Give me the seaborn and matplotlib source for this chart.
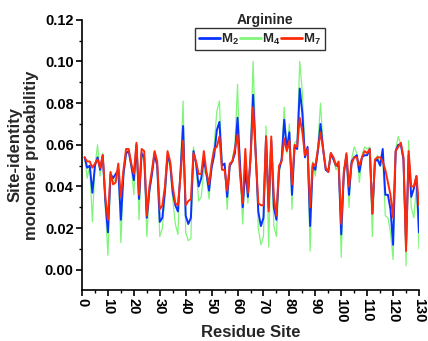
import numpy as np
import pandas as pd
import matplotlib
matplotlib.use("Agg")
import matplotlib.pyplot as plt
import seaborn as sns
from matplotlib.lines import Line2D
from matplotlib.ticker import MultipleLocator

sites = list(range(1, 131))

m7 = [0.054, 0.052, 0.052, 0.049, 0.051, 0.053, 0.049, 0.055, 0.035, 0.024,
      0.047, 0.041, 0.042, 0.051, 0.035, 0.048, 0.058, 0.058, 0.051, 0.046,
      0.061, 0.036, 0.058, 0.057, 0.026, 0.040, 0.048, 0.057, 0.052, 0.029,
      0.031, 0.040, 0.057, 0.052, 0.040, 0.032, 0.031, 0.045, 0.062, 0.031,
      0.033, 0.034, 0.056, 0.052, 0.046, 0.046, 0.057, 0.047, 0.041, 0.051,
      0.058, 0.059, 0.064, 0.048, 0.048, 0.038, 0.051, 0.052, 0.058, 0.065,
      0.045, 0.032, 0.058, 0.037, 0.053, 0.078, 0.055, 0.032, 0.031, 0.031,
      0.064, 0.028, 0.064, 0.035, 0.026, 0.050, 0.052, 0.063, 0.057, 0.062,
      0.041, 0.060, 0.059, 0.073, 0.066, 0.055, 0.058, 0.030, 0.051, 0.050,
      0.058, 0.066, 0.058, 0.049, 0.047, 0.056, 0.054, 0.050, 0.052, 0.022,
      0.047, 0.056, 0.040, 0.051, 0.054, 0.054, 0.050, 0.054, 0.057, 0.056,
      0.058, 0.027, 0.053, 0.054, 0.054, 0.052, 0.048, 0.042, 0.036, 0.025,
      0.057, 0.059, 0.061, 0.054, 0.009, 0.057, 0.040, 0.040, 0.045, 0.031]

m2 = [0.054, 0.049, 0.050, 0.037, 0.050, 0.054, 0.048, 0.055, 0.033, 0.018,
      0.046, 0.044, 0.046, 0.048, 0.024, 0.046, 0.056, 0.057, 0.050, 0.043,
      0.060, 0.034, 0.056, 0.054, 0.025, 0.038, 0.046, 0.056, 0.050, 0.023,
      0.025, 0.038, 0.055, 0.051, 0.037, 0.031, 0.028, 0.047, 0.069, 0.026,
      0.022, 0.025, 0.057, 0.051, 0.040, 0.044, 0.053, 0.046, 0.038, 0.049,
      0.055, 0.067, 0.071, 0.050, 0.051, 0.035, 0.050, 0.052, 0.056, 0.073,
      0.050, 0.030, 0.048, 0.035, 0.054, 0.084, 0.056, 0.028, 0.021, 0.025,
      0.064, 0.030, 0.062, 0.030, 0.024, 0.048, 0.053, 0.072, 0.058, 0.066,
      0.036, 0.059, 0.058, 0.087, 0.075, 0.054, 0.059, 0.021, 0.050, 0.048,
      0.057, 0.070, 0.058, 0.048, 0.047, 0.056, 0.053, 0.050, 0.050, 0.017,
      0.046, 0.055, 0.036, 0.052, 0.054, 0.055, 0.047, 0.054, 0.055, 0.055,
      0.058, 0.027, 0.052, 0.053, 0.050, 0.058, 0.036, 0.036, 0.029, 0.012,
      0.057, 0.060, 0.060, 0.053, 0.012, 0.055, 0.035, 0.039, 0.045, 0.018]

m4 = [0.054, 0.044, 0.050, 0.023, 0.050, 0.060, 0.045, 0.056, 0.030, 0.007,
      0.044, 0.042, 0.044, 0.050, 0.013, 0.044, 0.055, 0.057, 0.050, 0.036,
      0.060, 0.024, 0.055, 0.052, 0.016, 0.037, 0.046, 0.057, 0.048, 0.016,
      0.020, 0.035, 0.052, 0.050, 0.034, 0.022, 0.017, 0.050, 0.081, 0.018,
      0.014, 0.015, 0.059, 0.050, 0.033, 0.035, 0.048, 0.045, 0.034, 0.051,
      0.060, 0.076, 0.081, 0.051, 0.050, 0.029, 0.049, 0.053, 0.060, 0.089,
      0.046, 0.022, 0.050, 0.032, 0.056, 0.100, 0.062, 0.020, 0.012, 0.016,
      0.069, 0.011, 0.060, 0.021, 0.016, 0.045, 0.054, 0.078, 0.056, 0.070,
      0.029, 0.061, 0.062, 0.100, 0.085, 0.057, 0.056, 0.009, 0.052, 0.045,
      0.060, 0.080, 0.060, 0.048, 0.048, 0.056, 0.053, 0.048, 0.050, 0.006,
      0.048, 0.055, 0.030, 0.053, 0.059, 0.056, 0.042, 0.055, 0.059, 0.058,
      0.059, 0.016, 0.052, 0.055, 0.050, 0.055, 0.026, 0.025, 0.018, 0.005,
      0.058, 0.064, 0.060, 0.054, 0.002, 0.062, 0.030, 0.025, 0.040, 0.010]

series_names = ["M2", "M4", "M7"]
legend_labels = [r"$\mathrm{M_2}$", r"$\mathrm{M_4}$", r"$\mathrm{M_7}$"]
colors = {"M2": "#0a32ff", "M4": "#80f57a", "M7": "#ff2a0a"}
widths = {"M2": 1.4, "M4": 0.9, "M7": 1.4}

df = pd.DataFrame({
    "site": sites * 3,
    "prob": m2 + m4 + m7,
    "series": ["M2"] * 130 + ["M4"] * 130 + ["M7"] * 130,
})

sns.set_style("ticks")
plt.rcParams["font.family"] = ["Liberation Sans", "DejaVu Sans"]
plt.rcParams["font.weight"] = "bold"
plt.rcParams["mathtext.fontset"] = "custom"
plt.rcParams["mathtext.rm"] = "Liberation Sans:bold"
plt.rcParams["mathtext.it"] = "Liberation Sans:bold"
plt.rcParams["mathtext.bf"] = "Liberation Sans:bold"

fig = plt.figure(figsize=(4.28, 3.41), dpi=100)
ax = fig.add_axes([0.1916, 0.150, 0.7874, 0.792])

for name, z in [("M4", 1), ("M2", 2), ("M7", 3)]:
    sub = df[df["series"] == name]
    sns.lineplot(data=sub, x="site", y="prob", ax=ax, color=colors[name],
                 linewidth=widths[name], zorder=z, legend=False)

ax.set_xlim(0, 130)
ax.set_ylim(-0.0096, 0.12)
ax.xaxis.set_major_locator(MultipleLocator(10))
ax.xaxis.set_minor_locator(MultipleLocator(5))
ax.yaxis.set_minor_locator(MultipleLocator(0.01))
ax.set_yticks([0.0, 0.02, 0.04, 0.06, 0.08, 0.10, 0.12])
ax.set_yticklabels(["0.00", "0.02", "0.04", "0.06", "0.08", "0.10", "0.12"])
ax.tick_params(axis="both", which="major", direction="out", length=4, width=1.2,
               labelsize=10.5, color="black", labelcolor="black", pad=2)
ax.tick_params(axis="both", which="minor", direction="out", length=2.5, width=1.0,
               color="black")
for lbl in ax.get_xticklabels():
    lbl.set_rotation(-90)
    lbl.set_fontweight("bold")
for lbl in ax.get_yticklabels():
    lbl.set_fontweight("bold")

for s in ["top", "right"]:
    ax.spines[s].set_visible(False)
for s in ["left", "bottom"]:
    ax.spines[s].set_linewidth(1.2)
    ax.spines[s].set_color("black")

ax.set_xlabel("Residue Site", fontsize=12, fontweight="bold", labelpad=2)
ax.set_ylabel("Site-identity\nmonomer probabilitiy", fontsize=12,
              fontweight="bold", labelpad=4, linespacing=1.15)

handles = [Line2D([0], [0], color=colors[n], linewidth=2.0) for n in series_names]
leg = ax.legend(handles, legend_labels, loc="center", bbox_to_anchor=(0.528, 0.928),
                ncol=3, frameon=True, fancybox=False, fontsize=9.5,
                handlelength=1.6, handletextpad=0.1, columnspacing=0.05,
                borderpad=0.25, borderaxespad=0.0, handleheight=0.5)
leg.get_frame().set_edgecolor("black")
leg.get_frame().set_linewidth(1.0)
ax.text(0.543, 1.0, "Arginine", transform=ax.transAxes, ha="center", va="center",
        fontsize=10, fontweight="bold")

fig.savefig("out.png", dpi=100)
